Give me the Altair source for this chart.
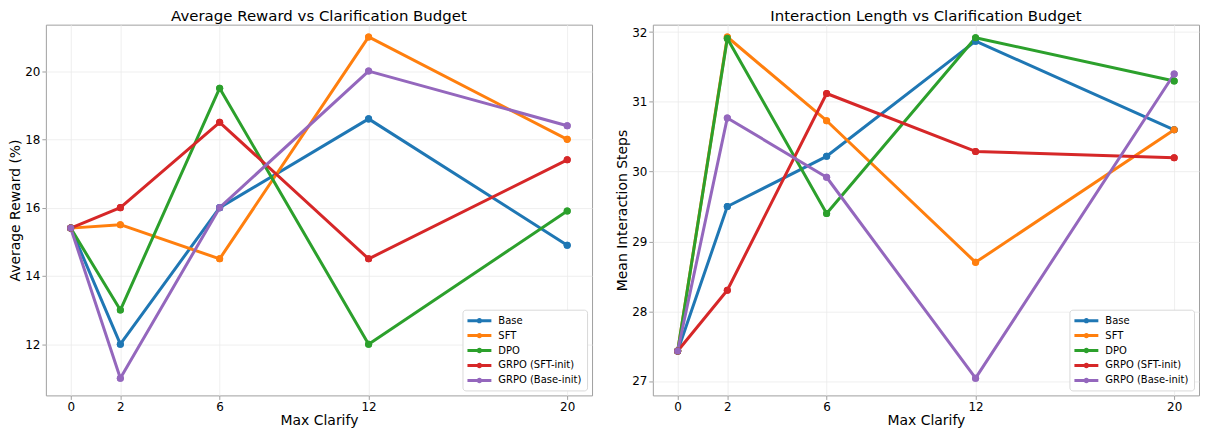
import altair as alt
import pandas as pd

budgets = [0, 2, 6, 12, 20]
methods = ["Base", "SFT", "DPO", "GRPO (SFT-init)", "GRPO (Base-init)"]
colors = ["#1f77b4", "#ff7f0e", "#2ca02c", "#d62728", "#9467bd"]

reward_base = [15.4, 12.0, 16.0, 18.6, 14.9]
reward_sft = [15.4, 15.5, 14.5, 21.0, 18.0]
reward_dpo = [15.4, 13.0, 19.5, 12.0, 15.9]
reward_grpo_sft = [15.4, 16.0, 18.5, 14.5, 17.4]
reward_grpo_base = [15.4, 11.0, 16.0, 20.0, 18.4]

steps_base = [27.43, 29.5, 30.22, 31.87, 30.6]
steps_sft = [27.43, 31.93, 30.73, 28.7, 30.6]
steps_dpo = [27.43, 31.91, 29.4, 31.92, 31.3]
steps_grpo_sft = [27.43, 28.3, 31.12, 30.29, 30.2]
steps_grpo_base = [27.43, 30.77, 29.92, 27.04, 31.4]

reward_series = [reward_base, reward_sft, reward_dpo, reward_grpo_sft, reward_grpo_base]
steps_series = [steps_base, steps_sft, steps_dpo, steps_grpo_sft, steps_grpo_base]

rows = []
for m, rs, ss in zip(methods, reward_series, steps_series):
    for b, r, s in zip(budgets, rs, ss):
        rows.append({"method": m, "budget": b, "reward": r, "steps": s})
df = pd.DataFrame(rows)

symbol_path = ("M-1,-0.25 L3,-0.25 L3,0.25 L-1,0.25 Z "
               "M1.45,0 A0.45,0.45 0 1,1 0.55,0 A0.45,0.45 0 1,1 1.45,0 Z")

W, H = 548, 372


def panel(field, title, ytitle, ydomain, yticks):
    base = alt.Chart(df).encode(
        x=alt.X("budget:Q", title="Max Clarify",
                scale=alt.Scale(domain=[-1, 21], nice=False, zero=False),
                axis=alt.Axis(values=budgets, format="d")),
        y=alt.Y(f"{field}:Q", title=ytitle,
                scale=alt.Scale(domain=ydomain, nice=False, zero=False),
                axis=alt.Axis(values=yticks, format="d")),
        color=alt.Color("method:N", title=None,
                        scale=alt.Scale(domain=methods, range=colors),
                        legend=alt.Legend(symbolType=symbol_path, symbolSize=144,
                                          symbolStrokeWidth=0, symbolOpacity=1,
                                          labelOffset=19)),
    )
    pts = base.mark_point(filled=True, size=50, opacity=1)
    line = base.mark_line(strokeWidth=3, strokeJoin="round")
    return alt.layer(pts, line, pts).properties(width=W, height=H, title=title)


left = panel("reward", "Average Reward vs Clarification Budget", "Average Reward (%)",
             [10.5, 21.36], [12, 14, 16, 18, 20])
right = panel("steps", "Interaction Length vs Clarification Budget", "Mean Interaction Steps",
              [26.793, 32.107], [27, 28, 29, 30, 31, 32])

chart = (
    alt.hconcat(left, right, spacing=22)
    .resolve_scale(color="independent")
    .resolve_legend(color="independent")
    .properties(padding={"left": 0, "right": 0, "top": 0, "bottom": 0}, background="white")
    .configure_view(stroke="#a0a0a0", strokeWidth=1)
    .configure_axis(grid=True, gridColor="#ebebeb", gridWidth=0.8, domain=False,
                    tickColor="#a0a0a0", tickSize=4, labelPadding=2,
                    labelFont="DejaVu Sans", labelFontSize=12, labelColor="#000",
                    titleFont="DejaVu Sans", titleFontSize=14, titleFontWeight="normal",
                    titleColor="#000")
    .configure_axisX(titlePadding=1)
    .configure_axisY(titlePadding=2)
    .configure_title(font="DejaVu Sans", fontSize=15, fontWeight="normal", color="#000",
                     offset=0.5, baseline="alphabetic")
    .configure_legend(orient="bottom-right", offset=5, strokeColor="#d9d9d9",
                      fillColor="white", cornerRadius=3, padding=5,
                      labelFont="DejaVu Sans", labelFontSize=10, labelColor="#000",
                      rowPadding=4)
)

chart.save("out.html", embed_options={"renderer": "svg", "actions": False})
